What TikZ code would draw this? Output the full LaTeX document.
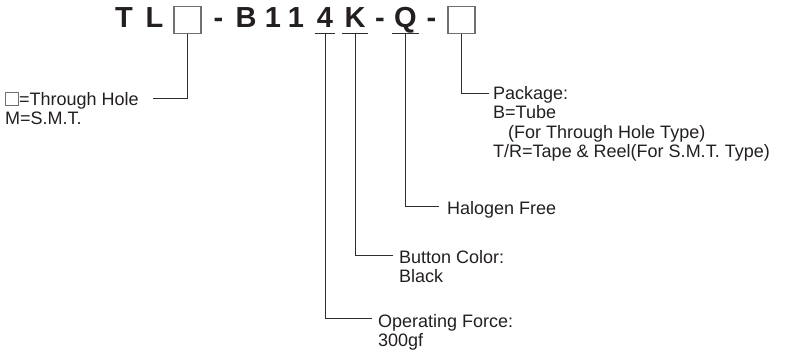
\documentclass[tikz,border=0pt]{standalone}
\usepackage{fontspec}
\setmainfont{Liberation Sans}
\usepackage{tikz}
\usetikzlibrary{positioning}
\usetikzlibrary{calc}

\definecolor{leadgray}{HTML}{2E2E2E}
\definecolor{boxgray}{HTML}{707070}
\definecolor{inkblack}{HTML}{231F20}
\newcommand{\emptybox}{{\setlength{\fboxsep}{0pt}\setlength{\fboxrule}{0.7pt}%
	\fcolorbox{boxgray}{white}{\rule{0pt}{12.5pt}\hspace{12.5pt}}}}

\begin{document}
\begin{tikzpicture}[
	x=1pt, y=-1pt,
	codechar/.style={font=\fontsize{29}{29}\selectfont\bfseries, inner sep=0pt, anchor=base, text=inkblack},
	ulchar/.style={codechar, inner xsep=2pt},
	blank/.style={draw=boxgray, line width=1.1pt, fill=white, minimum width=27pt, minimum height=27pt, inner sep=0pt, anchor=north},
	desc/.style={font=\fontsize{18}{19.5}\selectfont, align=left, inner sep=0pt, anchor=base west, text=inkblack},
	lead/.style={draw=leadgray, line width=0.9pt}
]

\useasboundingbox (0,0) rectangle (787,356);

% part number
\node[codechar] (t) at (124,27.5) {T};
\node[codechar] (l) at (154.5,27.5) {L};
\node[blank] (mount) at (187.5,5.5) {};
\node[codechar] (dashA) at (218.5,27.5) {-};
\node[codechar] (b) at (246,27.5) {B};
\node[codechar] (oneA) at (273,27.5) {1};
\node[codechar] (oneB) at (296,27.5) {1};
\node[ulchar] (force) at (325,27.5) {4};
\node[ulchar] (color) at (355,27.5) {K};
\node[codechar] (dashB) at (380,27.5) {-};
\node[ulchar] (halogen) at (405.5,27.5) {Q};
\node[codechar] (dashC) at (431.5,27.5) {-};
\node[blank] (package) at (461.5,5.5) {};

% descriptions (placed by the baseline of their last line)
\node[desc] (mountDesc) at (5,124.5) {\emptybox=Through Hole\\M=S.M.T.};
\node[desc] (packageDesc) at (493,157.5) {Package:\\B=Tube\\\hspace*{15pt}(For Through Hole Type)\\T/R=Tape \& Reel(For S.M.T. Type)};
\node[desc] (halogenDesc) at (447,214) {Halogen Free};
\node[desc] (colorDesc) at (399,282.5) {Button Color:\\Black};
\node[desc] (forceDesc) at (378,346.5) {Operating Force:\\300gf};

\coordinate (mountEnd) at (153,98);
\coordinate (packageEnd) at (489,93);
\coordinate (halogenEnd) at (439,206);
\coordinate (colorEnd) at (393,255);
\coordinate (forceEnd) at (372,318);

% ---

\draw[lead] ([yshift=-6pt]force.base west) -- ([yshift=-6pt]force.base east);
\draw[lead] ([yshift=-6pt]color.base west) -- ([yshift=-6pt]color.base east);
\draw[lead] ([yshift=-6pt]halogen.base west) -- ([yshift=-6pt]halogen.base east);

\draw[lead] (mount.south) |- (mountEnd);
\draw[lead] (package.south) |- (packageEnd);
\draw[lead] ([yshift=-6pt]halogen.base) |- (halogenEnd);
\draw[lead] ([yshift=-6pt]color.base) |- (colorEnd);
\draw[lead] ([yshift=-6pt]force.base) |- (forceEnd);

\end{tikzpicture}
\end{document}
